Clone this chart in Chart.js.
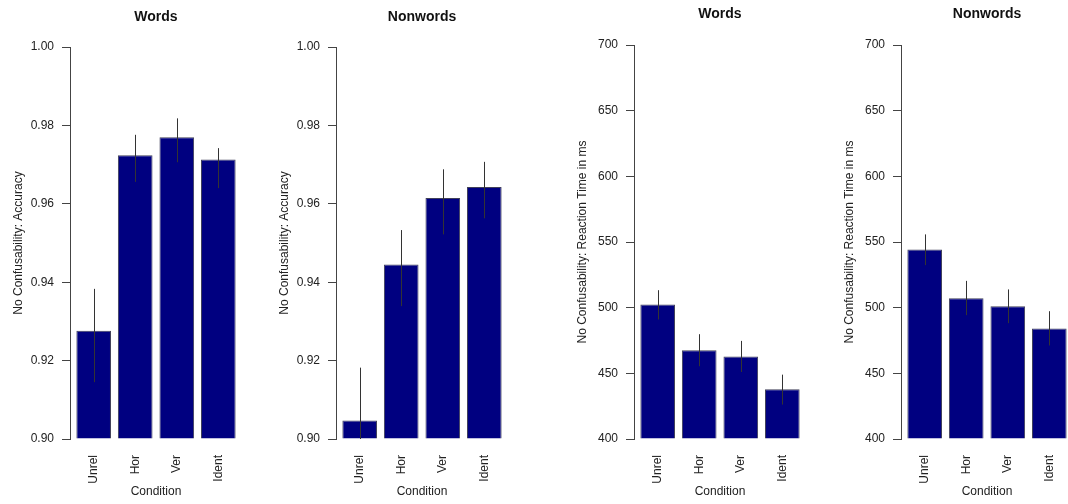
<!DOCTYPE html>
<html>
<head>
<meta charset="utf-8">
<script src="https://cdn.jsdelivr.net/npm/chart.js@4"></script>
<style>
  body { margin: 0; background: #fff; overflow: hidden; }
  #wrap { position: relative; width: 1068px; height: 504px; overflow: hidden; }
  canvas { position: absolute; top: 0; }
</style>
</head>
<body>
<div id="wrap">
  <canvas id="chart1" width="260" height="504" style="left:0px"></canvas>
  <canvas id="chart2" width="260" height="504" style="left:266px"></canvas>
  <canvas id="chart3" width="260" height="504" style="left:564px"></canvas>
  <canvas id="chart4" width="260" height="504" style="left:831px"></canvas>
</div>
<script>
// conditions on the x axis
var conditions = ['Unrel', 'Hor', 'Ver', 'Ident'];

// accuracy, words
var wordsAcc = [0.9276, 0.9724, 0.9770, 0.9713];
var wordsAccLo = [0.9145, 0.9656, 0.9706, 0.9640];
var wordsAccHi = [0.9383, 0.9776, 0.9818, 0.9742];

// accuracy, nonwords
var nonwordsAcc = [0.9047, 0.9445, 0.9615, 0.9643];
var nonwordsAccLo = [0.8912, 0.9339, 0.9522, 0.9563];
var nonwordsAccHi = [0.9182, 0.9533, 0.9688, 0.9707];

// reaction time, words
var wordsRT = [502.4, 467.6, 462.8, 437.9];
var wordsRTLo = [491.0, 455.4, 451.0, 426.2];
var wordsRTHi = [513.3, 479.8, 474.7, 449.0];

// reaction time, nonwords
var nonwordsRT = [544.3, 507.2, 501.1, 484.1];
var nonwordsRTLo = [532.4, 494.3, 488.2, 471.2];
var nonwordsRTHi = [555.8, 520.4, 513.9, 497.3];

// y axis ticks
var accTicks = [0.90, 0.92, 0.94, 0.96, 0.98, 1.00];
var rtTicks = [400, 450, 500, 550, 600, 650, 700];

Chart.defaults.font.family = "'Liberation Sans', Arial, sans-serif";
Chart.defaults.color = '#222';

// R barplot style: bar width 1, space 0.2, range padded by 4%
function bar_mids(n) {
    var mids = [];
    for (let i = 0; i < n; i++) {
        mids.push(0.2 + 0.5 + i * 1.2);
    }
    return mids;
}

// vertical error lines, no caps
var errorBars = {
    id: 'errorBars',
    afterDatasetsDraw: function(chart, args, opts) {
        var ctx = chart.ctx;
        var area = chart.chartArea;
        var y = chart.scales.y;
        var meta = chart.getDatasetMeta(0);
        ctx.save();
        ctx.beginPath();
        ctx.rect(area.left, area.top, area.right - area.left, area.bottom - area.top);
        ctx.clip();
        ctx.strokeStyle = '#333';
        ctx.lineWidth = 1;
        meta.data.forEach(function(bar, i) {
            var x = Math.round(bar.x) + 0.5;
            ctx.beginPath();
            ctx.moveTo(x, y.getPixelForValue(opts.lo[i]));
            ctx.lineTo(x, y.getPixelForValue(opts.hi[i]));
            ctx.stroke();
        });
        ctx.restore();
    }
};

function draw_panel(canvasId, title, yLabel, values, lo, hi, yTicks, decimals, titleTop) {
    var mids = bar_mids(values.length);
    var pad = (mids[mids.length - 1] + 0.5 - (mids[0] - 0.5)) * 0.04;
    var points = [];
    for (let i = 0; i < values.length; i++) {
        points.push({x: mids[i], y: values[i]});
    }

    new Chart(canvasId, {
        type: 'bar',
        data: {
            datasets: [{
                data: points,
                backgroundColor: '#000080',
                borderColor: '#40405a',
                borderWidth: 1,
                base: yTicks[0],
                categoryPercentage: 1,
                barPercentage: 1 / 1.2
            }]
        },
        plugins: [errorBars],
        options: {
            responsive: false,
            animation: false,
            layout: { padding: { left: 0, right: 18, top: 0, bottom: 0 } },
            scales: {
                x: {
                    type: 'linear',
                    offset: false,
                    min: mids[0] - 0.5 - pad,
                    max: mids[mids.length - 1] + 0.5 + pad,
                    grid: { display: false, drawTicks: false, offset: false },
                    border: { display: false },
                    afterBuildTicks: function(scale) {
                        scale.ticks = mids.map(function(v) { return {value: v}; });
                    },
                    ticks: {
                        autoSkip: false,
                        minRotation: 90,
                        maxRotation: 90,
                        padding: 16,
                        font: { size: 12 },
                        callback: function(v, i) { return conditions[i]; }
                    },
                    title: {
                        display: true,
                        text: 'Condition',
                        font: { size: 12 },
                        padding: { top: 0, bottom: 5 }
                    },
                    afterFit: function(scale) { scale.height = 65; }
                },
                y: {
                    min: yTicks[0],
                    max: yTicks[yTicks.length - 1],
                    afterBuildTicks: function(scale) {
                        scale.ticks = yTicks.map(function(v) { return {value: v}; });
                    },
                    ticks: {
                        padding: 8,
                        font: { size: 12 },
                        callback: function(v) { return v.toFixed(decimals); }
                    },
                    grid: { drawOnChartArea: false, drawTicks: true, tickLength: 8, color: '#444' },
                    border: { display: true, color: '#444' },
                    title: {
                        display: true,
                        text: yLabel,
                        font: { size: 12 },
                        padding: { top: 11, bottom: 0 }
                    },
                    afterFit: function(scale) { scale.width = 70; }
                }
            },
            plugins: {
                legend: { display: false },
                tooltip: { enabled: false },
                title: {
                    display: true,
                    text: title,
                    fullSize: false,
                    color: '#111',
                    font: { size: 14, weight: 'bold' },
                    padding: { top: titleTop, bottom: 47 - 16.8 - titleTop - (titleTop < 9 ? 2 : 0) }
                },
                errorBars: { lo: lo, hi: hi }
            }
        }
    });
}

draw_panel('chart1', 'Words', 'No Confusability: Accuracy', wordsAcc, wordsAccLo, wordsAccHi, accTicks, 2, 9);
draw_panel('chart2', 'Nonwords', 'No Confusability: Accuracy', nonwordsAcc, nonwordsAccLo, nonwordsAccHi, accTicks, 2, 9);
draw_panel('chart3', 'Words', 'No Confusability: Reaction Time in ms', wordsRT, wordsRTLo, wordsRTHi, rtTicks, 0, 6);
draw_panel('chart4', 'Nonwords', 'No Confusability: Reaction Time in ms', nonwordsRT, nonwordsRTLo, nonwordsRTHi, rtTicks, 0, 6);
</script>
</body>
</html>
